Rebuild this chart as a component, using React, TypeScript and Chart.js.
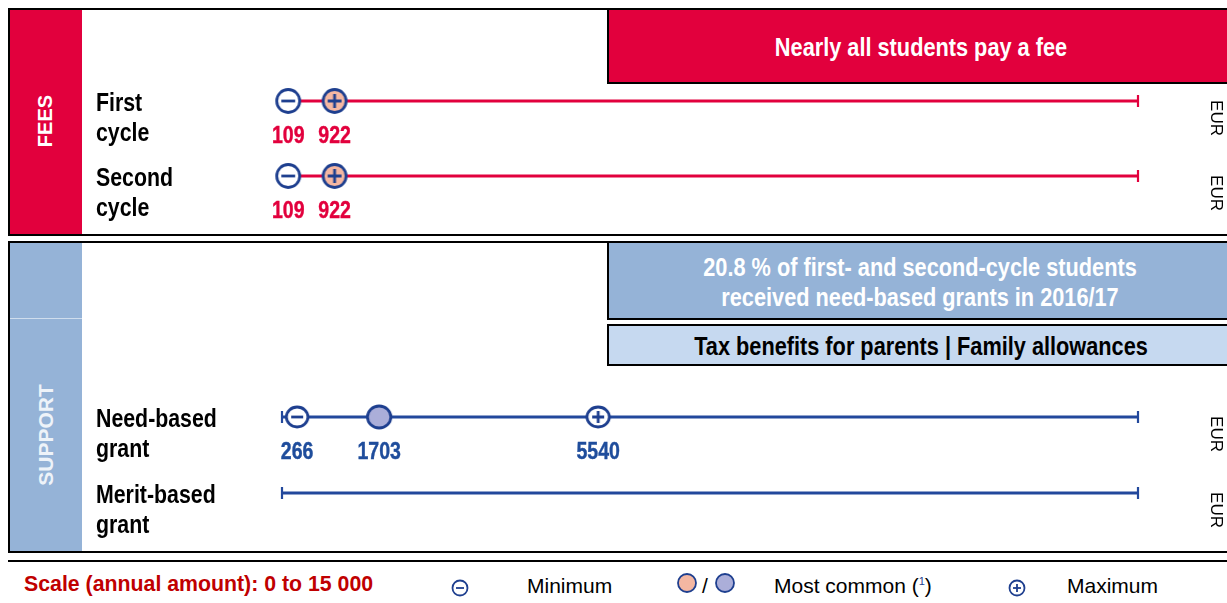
import React, { useEffect, useRef } from 'react';
import { Chart, registerables } from 'chart.js';

Chart.register(...registerables);

// ---------- data ----------
const SCALE_MIN = 0;
const SCALE_MAX = 15000;
const unitLabel = 'EUR';

const feeRows = [['First', 'cycle'], ['Second', 'cycle']];
const feeMin = [109, 109];
const feeMostCommonMax = [922, 922];

const supportRows = [['Need-based', 'grant'], ['Merit-based', 'grant']];
const supportMin: (number | null)[] = [266, null];
const supportMostCommon: (number | null)[] = [1703, null];
const supportMax: (number | null)[] = [5540, null];

const feeTitle = 'Nearly all students pay a fee';
const supportTitle = ['20.8 % of first- and second-cycle students', 'received need-based grants in 2016/17'];
const supportOther = 'Tax benefits for parents | Family allowances';
const scaleText = 'Scale (annual amount): 0 to 15 000';

// ---------- styles ----------
const RED = '#e2003d';
const NAVY = '#1e3f8f';
const BLUE_LINE = '#22489c';
const BLUE_LABEL = '#1f4d9c';
const BAND_BLUE = '#95b3d7';
const LIGHT_BLUE = '#c6d9f0';
const SALMON = '#f4b7a2';
const LAVENDER = '#abaed9';
const SANS = '"Liberation Sans", Arial, sans-serif';
const NARROW_SCALE = 0.82;

function makeMarker(rx: number, ry: number, fill: string, sign: 'minus' | 'plus' | null, lw = 2.8) {
  let w = Math.ceil(2 * rx + lw + 2);
  if (w % 2) w += 1;
  let h = Math.ceil(2 * ry + lw + 2);
  if (h % 2) h += 1;
  const c = document.createElement('canvas');
  c.width = w;
  c.height = h;
  const g = c.getContext('2d')!;
  const cx = w / 2;
  const cy = h / 2;
  g.beginPath();
  g.ellipse(cx, cy, rx, ry, 0, 0, Math.PI * 2);
  g.fillStyle = fill;
  g.fill();
  g.lineWidth = lw;
  g.strokeStyle = NAVY;
  g.stroke();
  if (sign) {
    const hs = Math.min(rx, ry) * 0.6;
    g.beginPath();
    g.moveTo(cx - hs, cy);
    g.lineTo(cx + hs, cy);
    if (sign === 'plus') {
      g.moveTo(cx, cy - hs);
      g.lineTo(cx, cy + hs);
    }
    g.lineWidth = 2.8;
    g.stroke();
  }
  return c;
}

function narrowText(ctx: CanvasRenderingContext2D, text: string, x: number, y: number, scale = NARROW_SCALE, strokeW = 0) {
  ctx.save();
  ctx.translate(x, y);
  ctx.scale(scale, 1);
  ctx.fillText(text, 0, 0);
  if (strokeW > 0) {
    ctx.lineWidth = strokeW;
    ctx.strokeStyle = ctx.fillStyle;
    ctx.strokeText(text, 0, 0);
  }
  ctx.restore();
}

type Series = { values: (number | null)[]; marker: () => HTMLCanvasElement; label: boolean };

const CANVAS_W = 1145; // page x 82 .. 1227
const PAD_LEFT = 200; // value 0 at page x 282
const PAD_RIGHT = 89; // value 15000 at page x 1138

function RowChart(props: {
  top: number;
  height: number;
  padTop: number;
  padBottom: number;
  rows: string[][];
  lineColor: string;
  labelColor: string;
  series: Series[];
}) {
  const ref = useRef<HTMLCanvasElement>(null);
  useEffect(() => {
    const { rows, lineColor, labelColor, series } = props;
    const lineSets = rows.map((_, i) => ({
      data: [
        { x: SCALE_MIN, y: i },
        { x: SCALE_MAX, y: i },
      ],
      showLine: true,
      borderColor: lineColor,
      borderWidth: 3,
      pointStyle: 'line',
      rotation: 90,
      pointRadius: 6,
      pointBorderWidth: 2.2,
      pointBorderColor: lineColor,
      pointBackgroundColor: lineColor,
      order: 2,
      clip: false,
    }));
    const markerSets = series.map((s) => ({
      data: s.values
        .map((v, i) => (v == null ? null : { x: v, y: i }))
        .filter((p) => p !== null),
      pointStyle: s.marker(),
      pointRadius: 5,
      showLine: false,
      order: 1,
      clip: false,
    }));
    const labelsPlugin = {
      id: 'rowLabels',
      afterDatasetsDraw(chart: any) {
        const ctx = chart.ctx;
        const xs = chart.scales.x;
        const ys = chart.scales.y;
        ctx.save();
        // row names
        ctx.fillStyle = '#000';
        ctx.font = 'bold 26px ' + SANS;
        ctx.textAlign = 'left';
        ctx.textBaseline = 'alphabetic';
        rows.forEach((lines, i) => {
          const y = ys.getPixelForValue(i);
          lines.forEach((t, k) => narrowText(ctx, t, 14, y + 9.5 + k * 30));
        });
        // value labels
        ctx.fillStyle = labelColor;
        ctx.font = 'bold 23px ' + SANS;
        ctx.textAlign = 'center';
        series.forEach((s) => {
          if (!s.label) return;
          s.values.forEach((v, i) => {
            if (v == null) return;
            narrowText(ctx, String(v), xs.getPixelForValue(v), ys.getPixelForValue(i) + 41.5, 0.85, 0.4);
          });
        });
        // unit
        ctx.fillStyle = '#000';
        ctx.font = '17px ' + SANS;
        rows.forEach((_, i) => {
          const y = ys.getPixelForValue(i) + 17;
          ctx.save();
          ctx.translate(xs.right + 78, y);
          ctx.rotate(Math.PI / 2);
          ctx.textAlign = 'center';
          ctx.textBaseline = 'middle';
          ctx.fillText(unitLabel, 0, 0);
          ctx.restore();
        });
        ctx.restore();
      },
    };
    const chart = new Chart(ref.current!, {
      type: 'scatter',
      data: { datasets: [...markerSets, ...lineSets] as any },
      options: {
        animation: false,
        responsive: false,
        events: [],
        layout: { padding: { left: PAD_LEFT, right: PAD_RIGHT, top: props.padTop, bottom: props.padBottom } },
        scales: {
          x: { type: 'linear', min: SCALE_MIN, max: SCALE_MAX, display: false },
          y: { type: 'linear', min: 0, max: rows.length - 1, reverse: true, display: false },
        },
        plugins: { legend: { display: false }, tooltip: { enabled: false } },
      },
      plugins: [labelsPlugin],
    });
    return () => chart.destroy();
  }, []);
  return (
    <canvas
      ref={ref}
      width={CANVAS_W}
      height={props.height}
      style={{ position: 'absolute', left: 82, top: props.top, width: CANVAS_W, height: props.height }}
    />
  );
}

function abs(left: number, top: number, width: number, height: number, extra: React.CSSProperties = {}): React.CSSProperties {
  return { position: 'absolute', left, top, width, height, boxSizing: 'border-box', ...extra };
}

function centered(x: number, y: number, extra: React.CSSProperties = {}, narrow = false): React.CSSProperties {
  return {
    position: 'absolute',
    left: x,
    top: y,
    transform: 'translate(-50%, -50%)' + (narrow ? ` scaleX(${NARROW_SCALE})` : ''),
    whiteSpace: 'nowrap',
    lineHeight: 1,
    ...extra,
  };
}

function rotated(x: number, y: number, extra: React.CSSProperties = {}): React.CSSProperties {
  return {
    position: 'absolute',
    left: x,
    top: y,
    transform: 'translate(-50%, -50%) rotate(-90deg)',
    whiteSpace: 'nowrap',
    lineHeight: 1,
    ...extra,
  };
}

function leftMid(x: number, y: number, extra: React.CSSProperties = {}): React.CSSProperties {
  return { position: 'absolute', left: x, top: y, transform: 'translateY(-50%)', whiteSpace: 'nowrap', lineHeight: 1, ...extra };
}

export default function App() {
  const feeSeries: Series[] = [
    { values: feeMin, marker: () => makeMarker(11.5, 11.5, '#fff', 'minus'), label: true },
    { values: feeMostCommonMax, marker: () => makeMarker(11.5, 11.5, SALMON, 'plus'), label: true },
  ];
  const supportSeries: Series[] = [
    { values: supportMin, marker: () => makeMarker(10.8, 10, '#fff', 'minus'), label: true },
    { values: supportMostCommon, marker: () => makeMarker(11.7, 11, LAVENDER, null), label: true },
    { values: supportMax, marker: () => makeMarker(11.2, 10, '#fff', 'plus'), label: true },
  ];
  const border = '2px solid #000';
  return (
    <div style={{ position: 'absolute', left: 0, top: 0, width: 1227, height: 603, overflow: 'hidden', background: '#fff', fontFamily: SANS }}>
      {/* FEES block */}
      <div style={abs(8, 8, 1240, 228, { border })} />
      <div style={abs(10, 10, 72, 224, { background: RED })} />
      <div style={rotated(45, 121, { color: '#fff', fontWeight: 'bold', fontSize: 20 })}>FEES</div>
      <div style={abs(607, 8, 640, 76, { background: RED, borderTop: border, borderLeft: border, borderBottom: border })} />
      <div style={centered(921, 47, { color: '#fff', fontWeight: 'bold', fontSize: 26.5 }, true)}>{feeTitle}</div>
      <RowChart top={84} height={150} padTop={17} padBottom={58} rows={feeRows} lineColor={RED} labelColor={RED} series={feeSeries} />

      {/* SUPPORT block */}
      <div style={abs(8, 241, 1240, 312, { border })} />
      <div style={abs(10, 243, 72, 308, { background: BAND_BLUE })} />
      <div style={abs(10, 318, 72, 1, { background: 'rgba(255,255,255,0.55)' })} />
      <div style={rotated(45, 435, { color: '#eef3f9', fontWeight: 'bold', fontSize: 21 })}>SUPPORT</div>
      <div style={abs(607, 241, 640, 79, { background: BAND_BLUE, borderTop: border, borderLeft: border, borderBottom: border })} />
      <div style={centered(920, 282, { color: '#fff', fontWeight: 'bold', fontSize: 26.5, lineHeight: '30px', textAlign: 'center' }, true)}>
        {supportTitle[0]}
        <br />
        {supportTitle[1]}
      </div>
      <div style={abs(607, 324, 640, 42, { background: LIGHT_BLUE, border })} />
      <div style={centered(921, 346, { color: '#000', fontWeight: 'bold', fontSize: 26.5 }, true)}>{supportOther}</div>
      <RowChart top={365} height={186} padTop={52} padBottom={58} rows={supportRows} lineColor={BLUE_LINE} labelColor={BLUE_LABEL} series={supportSeries} />

      {/* Legend */}
      <div style={abs(8, 560, 1240, 2, { background: '#000' })} />
      <div style={leftMid(24, 585, { color: '#c00000', fontWeight: 'bold', fontSize: 21.3 })}>{scaleText}</div>
      <svg style={{ position: 'absolute', left: 450, top: 578, overflow: 'visible' }} width={20} height={20}>
        <circle cx={10} cy={10} r={7.5} fill="#fff" stroke={NAVY} strokeWidth={1.8} />
        <line x1={6} x2={14} y1={10} y2={10} stroke={NAVY} strokeWidth={1.8} />
      </svg>
      <div style={leftMid(527, 585, { color: '#000', fontSize: 21 })}>Minimum</div>
      <svg style={{ position: 'absolute', left: 676, top: 572, overflow: 'visible' }} width={60} height={22}>
        <circle cx={11} cy={11} r={9} fill={SALMON} stroke={NAVY} strokeWidth={1.8} />
        <circle cx={49} cy={11} r={9} fill={LAVENDER} stroke={NAVY} strokeWidth={1.8} />
      </svg>
      <div style={centered(705, 585, { color: '#000', fontSize: 21 })}>/</div>
      <div style={leftMid(774, 585, { color: '#000', fontSize: 21 })}>
        Most common (<sup style={{ fontSize: 11, color: NAVY, verticalAlign: 'super', lineHeight: 0 }}>1</sup>)
      </div>
      <svg style={{ position: 'absolute', left: 1007, top: 578, overflow: 'visible' }} width={20} height={20}>
        <circle cx={10} cy={10} r={7.5} fill="#fff" stroke={NAVY} strokeWidth={1.8} />
        <line x1={6} x2={14} y1={10} y2={10} stroke={NAVY} strokeWidth={1.8} />
        <line x1={10} x2={10} y1={6} y2={14} stroke={NAVY} strokeWidth={1.8} />
      </svg>
      <div style={leftMid(1067, 585, { color: '#000', fontSize: 21 })}>Maximum</div>
    </div>
  );
}
